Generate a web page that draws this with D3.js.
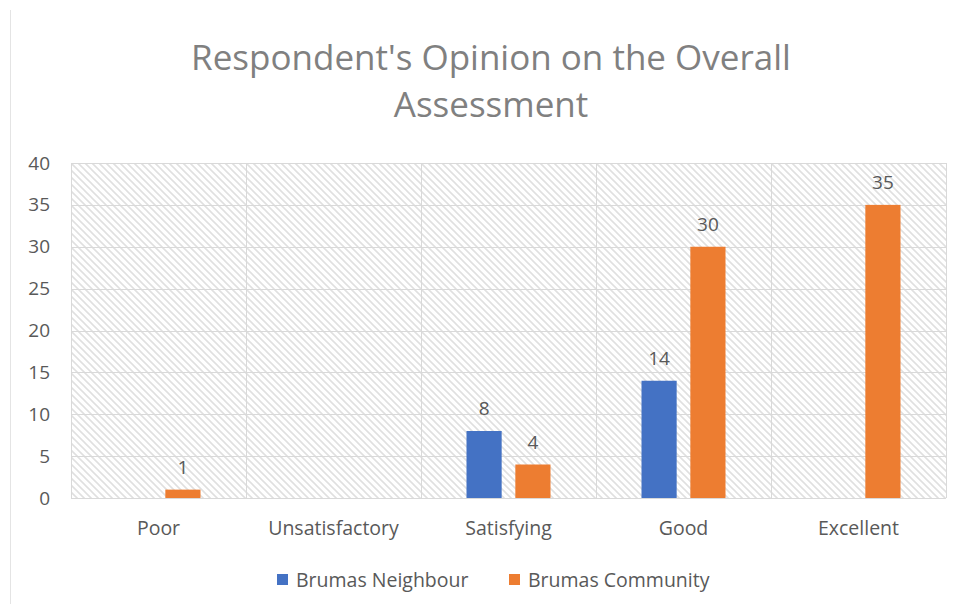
<!DOCTYPE html>
<html>
<head>
<meta charset="utf-8">
<script src="https://cdn.jsdelivr.net/npm/d3@7"></script>
<style>
  body { margin: 0; background: #fff; }
  text { font-family: "Open Sans", "Noto Sans", sans-serif; }
</style>
</head>
<body>
<div id="chart"></div>
<script>
// --- data ---
const categories = ["Poor", "Unsatisfactory", "Satisfying", "Good", "Excellent"];
const seriesNames = ["Brumas Neighbour", "Brumas Community"];
const neighbourValues = [null, null, 8, 14, null];
const communityValues = [1, null, 4, 30, 35];
const yTicks = [0, 5, 10, 15, 20, 25, 30, 35, 40];
const colors = ["#4472C4", "#ED7D31"];

const width = 961, height = 604;
const margin = { top: 163, right: 15, bottom: 106, left: 71 };
const innerW = width - margin.left - margin.right;
const innerH = height - margin.top - margin.bottom;

const svg = d3.select("#chart").append("svg")
  .attr("width", width)
  .attr("height", height);

// hatched plot background
const defs = svg.append("defs");
const pat = defs.append("pattern")
  .attr("id", "hatch")
  .attr("patternUnits", "userSpaceOnUse")
  .attr("width", 7).attr("height", 7);
pat.append("path")
  .attr("d", "M0,0L7,7M-2,5L2,9M5,-2L9,2")
  .attr("stroke", "#e0e0e0")
  .attr("stroke-width", 1.6);

// chart frame (only the left edge shows in the reference)
svg.append("line")
  .attr("x1", 10.5).attr("x2", 10.5)
  .attr("y1", 10).attr("y2", height)
  .attr("stroke", "#e4e4e4");

// title
const title = svg.append("text")
  .attr("text-anchor", "middle")
  .attr("fill", "#808080")
  .style("font-size", "35px");
title.append("tspan").attr("x", 491).attr("y", 70).text("Respondent's Opinion on the Overall");
title.append("tspan").attr("x", 491).attr("y", 117).text("Assessment");

const g = svg.append("g").attr("transform", `translate(${margin.left},${margin.top})`);

const x = d3.scaleBand().domain(categories).range([0, innerW]);
const y = d3.scaleLinear().domain([0, 40]).range([innerH, 0]);
const x1 = d3.scaleBand().domain(seriesNames).range([x.bandwidth() / 2 - 42, x.bandwidth() / 2 + 42]).paddingInner(0.28);

g.append("rect")
  .attr("width", innerW).attr("height", innerH)
  .attr("fill", "url(#hatch)");

// horizontal grid
g.append("g")
  .selectAll("line")
  .data(yTicks)
  .join("line")
  .attr("x1", 0).attr("x2", innerW)
  .attr("y1", d => Math.round(y(d)) + 0.5)
  .attr("y2", d => Math.round(y(d)) + 0.5)
  .attr("stroke", "#d9d9d9");

// vertical grid at category boundaries
g.append("g")
  .selectAll("line")
  .data(categories.concat(["end"]))
  .join("line")
  .attr("x1", (d, i) => Math.round(i * x.step()) + 0.5)
  .attr("x2", (d, i) => Math.round(i * x.step()) + 0.5)
  .attr("y1", 0).attr("y2", innerH)
  .attr("stroke", "#d9d9d9");

// y axis labels
const yAxis = g.append("g")
  .call(d3.axisLeft(y).tickValues(yTicks).tickSize(0).tickPadding(21));
yAxis.select(".domain").remove();
yAxis.selectAll("text")
  .attr("fill", "#595959")
  .style("font-size", "19px")
  .style("font-family", "'Open Sans', sans-serif");

// x axis labels
const xAxis = g.append("g")
  .attr("transform", `translate(0,${innerH})`)
  .call(d3.axisBottom(x).tickSize(0).tickPadding(23));
xAxis.select(".domain").remove();
xAxis.selectAll("text")
  .attr("fill", "#595959")
  .style("font-size", "19.5px")
  .style("font-family", "'Open Sans', sans-serif");

// bars
const series = [neighbourValues, communityValues];
series.forEach((vals, si) => {
  const pts = categories.map((c, i) => ({ c, v: vals[i] })).filter(d => d.v != null);
  const grp = g.append("g");
  grp.selectAll("rect")
    .data(pts)
    .join("rect")
    .attr("x", d => x(d.c) + x1(seriesNames[si]))
    .attr("width", x1.bandwidth())
    .attr("y", d => y(d.v))
    .attr("height", d => y(0) - y(d.v))
    .attr("fill", colors[si]);
  grp.selectAll("text")
    .data(pts)
    .join("text")
    .attr("x", d => x(d.c) + x1(seriesNames[si]) + x1.bandwidth() / 2)
    .attr("y", d => y(d.v) - 16)
    .attr("text-anchor", "middle")
    .attr("fill", "#595959")
    .style("font-size", "19px")
    .text(d => d.v);
});

// legend
const legendX = [277, 509];
const legend = svg.append("g");
seriesNames.forEach((name, i) => {
  legend.append("rect")
    .attr("x", legendX[i]).attr("y", 574)
    .attr("width", 11).attr("height", 11)
    .attr("fill", colors[i]);
  legend.append("text")
    .attr("x", legendX[i] + 19).attr("y", 587)
    .attr("fill", "#595959")
    .style("font-size", "19.5px")
    .text(name);
});
</script>
</body>
</html>
